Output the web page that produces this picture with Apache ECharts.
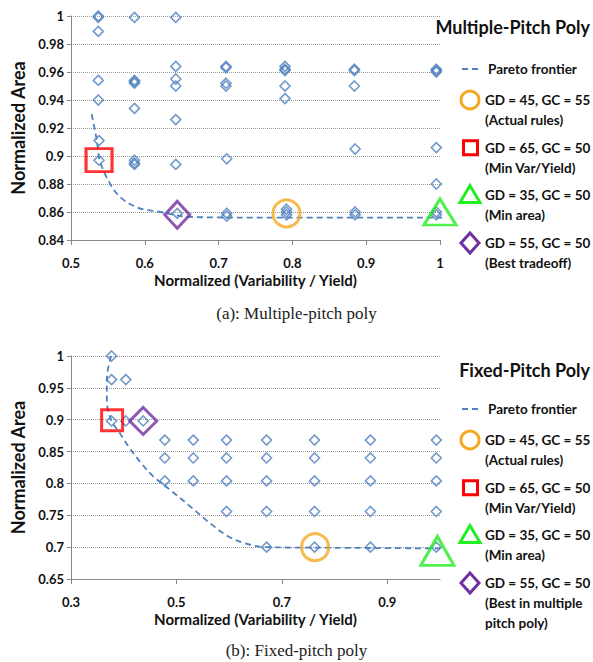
<!DOCTYPE html>
<html>
<head>
<meta charset="utf-8">
<script src="https://cdn.jsdelivr.net/npm/echarts@6/dist/echarts.min.js"></script>
<style>
  html, body { margin: 0; padding: 0; background: #fff; }
  #chart { width: 593px; height: 662px; }
</style>
</head>
<body>
<div id="chart"></div>
<script>
// (a) multiple-pitch poly: every design point [variability/yield, area]
const mpDesigns = [
  [0.537, 1.000], [0.537, 0.999], [0.537, 0.989], [0.537, 0.954], [0.537, 0.940], [0.538, 0.911], [0.538, 0.897],
  [0.586, 0.999], [0.586, 0.954], [0.586, 0.953], [0.586, 0.952], [0.586, 0.934], [0.586, 0.897], [0.586, 0.895], [0.586, 0.894],
  [0.642, 0.999], [0.642, 0.964], [0.642, 0.955], [0.642, 0.950], [0.642, 0.926], [0.642, 0.894], [0.644, 0.859],
  [0.710, 0.964], [0.710, 0.963], [0.710, 0.952], [0.710, 0.950], [0.711, 0.898], [0.711, 0.859], [0.711, 0.857],
  [0.790, 0.964], [0.790, 0.962], [0.790, 0.961], [0.790, 0.950], [0.790, 0.941], [0.792, 0.862], [0.792, 0.860], [0.792, 0.858],
  [0.884, 0.962], [0.884, 0.961], [0.884, 0.950], [0.885, 0.905], [0.885, 0.860], [0.885, 0.858],
  [0.995, 0.962], [0.995, 0.961], [0.995, 0.960], [0.995, 0.906], [0.995, 0.880], [0.995, 0.860], [0.995, 0.858]
];
const mpPareto = [[0.528, 0.930], [0.535, 0.911], [0.539, 0.897], [0.550, 0.883], [0.566, 0.871], [0.591, 0.863],
  [0.621, 0.860], [0.661, 0.8565], [0.75, 0.856], [1.02, 0.856]];
const mpActual = [0.792, 0.859];
const mpMinVar = [0.538, 0.897];
const mpMinArea = [1.0, 0.860];
const mpBest = [0.644, 0.858];

// (b) fixed-pitch poly
const fpDesigns = [
  [0.377, 1.000], [0.377, 0.963], [0.377, 0.898],
  [0.404, 0.963], [0.404, 0.898],
  [0.437, 0.898],
  [0.478, 0.868], [0.478, 0.840], [0.478, 0.804],
  [0.532, 0.868], [0.532, 0.840], [0.532, 0.804],
  [0.595, 0.868], [0.595, 0.840], [0.595, 0.804], [0.595, 0.756],
  [0.671, 0.868], [0.671, 0.840], [0.671, 0.804], [0.671, 0.756], [0.671, 0.700],
  [0.762, 0.868], [0.762, 0.840], [0.762, 0.804], [0.762, 0.756], [0.762, 0.700],
  [0.868, 0.868], [0.868, 0.840], [0.868, 0.804], [0.868, 0.756], [0.868, 0.700],
  [0.993, 0.868], [0.993, 0.840], [0.993, 0.804], [0.993, 0.756], [0.993, 0.700]
];
const fpPareto = [[0.376, 1.0], [0.368, 0.965], [0.368, 0.93], [0.377, 0.898], [0.39, 0.882], [0.41, 0.857],
  [0.431, 0.834], [0.456, 0.811], [0.488, 0.79], [0.526, 0.764], [0.56, 0.74], [0.596, 0.718],
  [0.63, 0.706], [0.67, 0.700], [0.8, 0.699], [1.0, 0.698]];
const fpActual = [0.763, 0.700];
const fpMinVar = [0.378, 0.899];
const fpMinArea = [0.995, 0.694];
const fpBest = [0.437, 0.898];

const panelTitles = ['Multiple-Pitch Poly', 'Fixed-Pitch Poly'];
const captions = ['(a): Multiple-pitch poly', '(b): Fixed-pitch poly'];
const legendA = [['GD = 45, GC = 55', '(Actual rules)'], ['GD = 65, GC = 50', '(Min Var/Yield)'],
  ['GD = 35, GC = 50', '(Min area)'], ['GD = 55, GC = 50', '(Best tradeoff)']];
const legendB = [['GD = 45, GC = 55', '(Actual rules)'], ['GD = 65, GC = 50', '(Min Var/Yield)'],
  ['GD = 35, GC = 50', '(Min area)'], ['GD = 55, GC = 50', '(Best in multiple', 'pitch poly)']];

const blue = '#4f81bd';
const orange = '#f5a922';
const red = '#ff0000';
const green = '#22ee22';
const purple = '#7030a0';
const sans = 'Lato';

const chart = echarts.init(document.getElementById('chart'), null, { renderer: 'svg' });

function xAxisOf(idx, min, max, interval) {
  return {
    gridIndex: idx, type: 'value', min: min, max: max, interval: interval,
    name: 'Normalized (Variability / Yield)', nameLocation: 'middle', nameGap: 32,
    nameTextStyle: { fontFamily: sans, fontWeight: 'bold', fontSize: 15, color: '#111' },
    axisLine: { lineStyle: { color: '#888' } },
    axisTick: { show: true, length: 5, lineStyle: { color: '#888' } },
    axisLabel: { margin: 16, showMaxLabel: idx === 0, fontFamily: sans, fontWeight: 'bold', fontSize: 13, color: '#111',
      formatter: v => String(+v.toFixed(2)) },
    splitLine: { show: false }
  };
}
function yAxisOf(idx, min, max, interval) {
  return {
    gridIndex: idx, type: 'value', min: min, max: max, interval: interval,
    name: 'Normalized Area', nameLocation: 'middle', nameGap: 43,
    nameTextStyle: { fontFamily: sans, fontWeight: 'bold', fontSize: 18, color: '#111' },
    axisLine: { show: true, lineStyle: { color: '#888' } },
    axisTick: { show: true, length: 4, lineStyle: { color: '#888' } },
    axisLabel: { margin: 7, fontFamily: sans, fontWeight: 'bold', fontSize: 13, color: '#111',
      formatter: v => String(+v.toFixed(2)) },
    splitLine: { show: true, lineStyle: { color: '#999', type: 'dotted', width: 1 } }
  };
}

function seriesFor(idx, designs, pareto, actual, minVar, minArea, best, sizes) {
  const hollow = c => ({ color: 'rgba(0,0,0,0)', borderColor: c, borderWidth: 3 });
  return [
    { name: 'designs', type: 'scatter', xAxisIndex: idx, yAxisIndex: idx, data: designs,
      symbol: 'diamond', symbolSize: [10, 10], z: 3,
      itemStyle: { color: 'rgba(0,0,0,0)', borderColor: blue, borderWidth: 1.6 } },
    { name: 'Pareto frontier', type: 'line', xAxisIndex: idx, yAxisIndex: idx, data: pareto,
      smooth: 0.35, showSymbol: false, symbol: 'none', clip: false, z: 2,
      lineStyle: { color: blue, width: 1.8, type: [6, 4] } },
    { name: 'actual', type: 'scatter', xAxisIndex: idx, yAxisIndex: idx, data: [actual],
      symbol: 'circle', symbolSize: sizes.circle, z: 4, itemStyle: hollow(orange) },
    { name: 'minVar', type: 'scatter', xAxisIndex: idx, yAxisIndex: idx, data: [minVar],
      symbol: 'rect', symbolSize: sizes.rect, z: 4, itemStyle: hollow(red) },
    { name: 'minArea', type: 'scatter', xAxisIndex: idx, yAxisIndex: idx, data: [minArea],
      symbol: 'triangle', symbolSize: sizes.tri, z: 4, clip: false, itemStyle: hollow(green) },
    { name: 'best', type: 'scatter', xAxisIndex: idx, yAxisIndex: idx, data: [best],
      symbol: 'diamond', symbolSize: sizes.dia, z: 4, itemStyle: hollow(purple) }
  ];
}

// legend drawn as graphics so the icon sits on the first text line
function legendGraphics(y0, labels) {
  const g = [];
  const font = 'bold 13.5px ' + sans;
  g.push({ type: 'line', shape: { x1: 462, y1: y0, x2: 481, y2: y0 },
    style: { stroke: blue, lineWidth: 2.2, lineDash: [6, 4] } });
  g.push({ type: 'text', x: 488, y: y0, style: { text: 'Pareto frontier', font: font, fill: '#111', verticalAlign: 'middle' } });
  const icons = ['circle', 'rect', 'tri', 'dia'];
  labels.forEach((lines, i) => {
    const cy = y0 + 31 + i * 47.7;
    const cx = 470;
    const st = { fill: 'none', lineWidth: 3 };
    if (icons[i] === 'circle') g.push({ type: 'circle', shape: { cx: cx, cy: cy, r: 9 }, style: Object.assign({ stroke: orange }, st) });
    if (icons[i] === 'rect') g.push({ type: 'rect', shape: { x: cx - 6.5, y: cy - 7, width: 14, height: 14 }, style: Object.assign({ stroke: red }, st) });
    if (icons[i] === 'tri') g.push({ type: 'polygon', shape: { points: [[cx, cy - 10], [cx + 10, cy + 7], [cx - 10, cy + 7]] }, style: Object.assign({ stroke: green }, st) });
    if (icons[i] === 'dia') g.push({ type: 'polygon', shape: { points: [[cx, cy - 10], [cx + 9, cy], [cx, cy + 10], [cx - 9, cy]] }, style: Object.assign({ stroke: purple }, st) });
    lines.forEach((t, j) => {
      g.push({ type: 'text', x: 485, y: cy + j * 20, style: { text: t, font: font, fill: '#111', verticalAlign: 'middle' } });
    });
  });
  return g;
}

const option = {
  backgroundColor: '#fff',
  animation: false,
  title: [
    { text: panelTitles[0], right: 3, top: 18, padding: 0, textStyle: { fontFamily: sans, fontWeight: 'bold', fontSize: 18, color: '#111' } },
    { text: panelTitles[1], right: 3, top: 361, padding: 0, textStyle: { fontFamily: sans, fontWeight: 'bold', fontSize: 18, color: '#111' } },
    { text: captions[0], left: 'center', top: 305, padding: 0, textStyle: { fontFamily: 'Liberation Serif', fontWeight: 'normal', fontSize: 17, color: '#222' } },
    { text: captions[1], left: 'center', top: 642, padding: 0, textStyle: { fontFamily: 'Liberation Serif', fontWeight: 'normal', fontSize: 17, color: '#222' } }
  ],
  grid: [
    { left: 71, top: 16, width: 369, height: 224 },
    { left: 71, top: 356, width: 369, height: 223 }
  ],
  xAxis: [xAxisOf(0, 0.5, 1.0, 0.1), xAxisOf(1, 0.3, 1.0, 0.2)],
  yAxis: [yAxisOf(0, 0.84, 1.0, 0.02), yAxisOf(1, 0.65, 1.0, 0.05)],
  series: [].concat(
    seriesFor(0, mpDesigns, mpPareto, mpActual, mpMinVar, mpMinArea, mpBest,
      { circle: 27, rect: [26, 23], tri: [32, 26], dia: [25, 27] }),
    seriesFor(1, fpDesigns, fpPareto, fpActual, fpMinVar, fpMinArea, fpBest,
      { circle: 27, rect: [21, 21], tri: [33, 29], dia: [27, 27] })
  ),
  graphic: legendGraphics(69, legendA).concat(legendGraphics(409, legendB))
};
chart.setOption(option);
</script>
</body>
</html>
